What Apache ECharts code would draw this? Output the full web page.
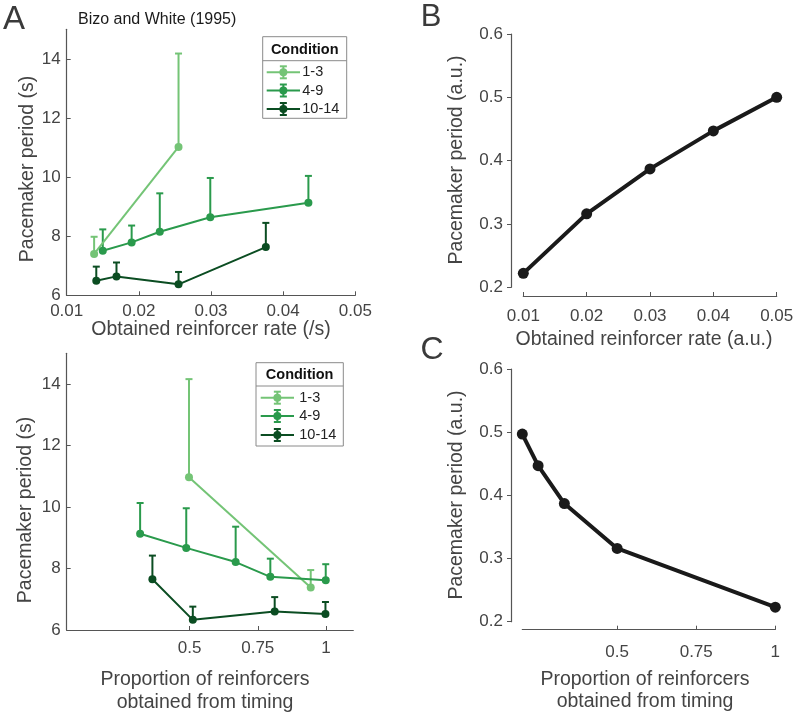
<!DOCTYPE html>
<html>
<head>
<meta charset="utf-8">
<script src="https://cdn.jsdelivr.net/npm/echarts@6/dist/echarts.min.js"></script>
<style>
html,body{margin:0;padding:0;background:#fff;}
#c{width:797px;height:717px;}
</style>
</head>
<body>
<div id="c"></div>
<script>
// ---- Data ----
const conditions = ['1-3', '4-9', '10-14'];
const condColors = ['#74c476', '#2a9a4c', '#0b4d22'];

// Panel A top: obtained reinforcer rate (/s) vs pacemaker period (s); upper error bar ends
const rateX_13 = [0.0138, 0.0255];
const rateY_13 = [7.40, 11.02];
const rateUp_13 = [7.98, 14.18];
const rateX_49 = [0.0150, 0.0190, 0.0229, 0.0299, 0.0435];
const rateY_49 = [7.51, 7.79, 8.15, 8.64, 9.13];
const rateUp_49 = [8.23, 8.36, 9.45, 9.97, 10.04];
const rateX_1014 = [0.0141, 0.0169, 0.0255, 0.0376];
const rateY_1014 = [6.49, 6.64, 6.37, 7.63];
const rateUp_1014 = [6.97, 7.11, 6.79, 8.45];

// Panel A bottom: proportion of reinforcers obtained from timing
const propX_13 = [0.498, 0.944];
const propY_13 = [10.97, 7.38];
const propUp_13 = [14.16, 7.95];
const propX_49 = [0.319, 0.488, 0.669, 0.796, 0.999];
const propY_49 = [9.13, 8.67, 8.21, 7.73, 7.62];
const propUp_49 = [10.13, 9.96, 9.36, 8.32, 8.14];
const propX_1014 = [0.364, 0.512, 0.812, 0.998];
const propY_1014 = [7.65, 6.33, 6.60, 6.52];
const propUp_1014 = [8.42, 6.76, 7.07, 6.91];

// Panel B and C model
const modelRate = [0.01, 0.02, 0.03, 0.04, 0.05];
const modelPeriodB = [0.222, 0.316, 0.387, 0.447, 0.500];
const modelProp = [0.2, 0.25, 0.333, 0.5, 1.0];
const modelPeriodC = [0.497, 0.447, 0.387, 0.316, 0.223];

// Tick labels
const yTicksA = [6, 8, 10, 12, 14];
const xTicksProp = [0.5, 0.75, 1];

// ---- Build ----
const FONT = '"Liberation Sans", Arial, Helvetica, sans-serif';
const TXT = '#444';
const AXC = '#555';

function zip(xs, ys, ups) { return xs.map((x, i) => ups ? [x, ys[i], ups[i]] : [x, ys[i]]); }

function errSeries(data, color, xi, yi) {
  return {
    type: 'custom', xAxisIndex: xi, yAxisIndex: yi, z: 2, silent: true,
    data: data,
    renderItem: function (params, api) {
      const p0 = api.coord([api.value(0), api.value(1)]);
      const p1 = api.coord([api.value(0), api.value(2)]);
      const hw = 3.5;
      return {
        type: 'group', children: [
          { type: 'line', shape: { x1: p0[0], y1: p0[1], x2: p1[0], y2: p1[1] }, style: { stroke: color, lineWidth: 2 } },
          { type: 'line', shape: { x1: p1[0] - hw, y1: p1[1], x2: p1[0] + hw, y2: p1[1] }, style: { stroke: color, lineWidth: 2 } }
        ]
      };
    }
  };
}
function lineSeries(name, data, color, xi, yi) {
  return {
    name: name, type: 'line', xAxisIndex: xi, yAxisIndex: yi, z: 3,
    data: data, symbol: 'circle', symbolSize: 8, showSymbol: true,
    lineStyle: { color: color, width: 2 }, itemStyle: { color: color },
    animation: false
  };
}

const axisLabelBase = { color: TXT, fontFamily: FONT, fontSize: 17 };

const grids = [
  { left: 66.7, top: 29.3, width: 288.6, height: 266 },
  { left: 66.7, top: 353.3, width: 286.6, height: 276.7 },
  { left: 523.3, top: 34, width: 253.4, height: 253.3 },
  { left: 522.3, top: 369, width: 253, height: 252.7 }
];

const xAxes = [
  { gridIndex: 0, type: 'value', min: 0.01, max: 0.05, interval: 0.01,
    axisLine: { lineStyle: { color: AXC, width: 1.2 } },
    axisTick: { inside: true, length: 4, lineStyle: { color: AXC } },
    axisLabel: Object.assign({ margin: 8, showMinLabel: true, showMaxLabel: true }, axisLabelBase),
    splitLine: { show: false } },
  { gridIndex: 1, type: 'value', min: 0.05, max: 1.1,
    axisLine: { lineStyle: { color: AXC, width: 1.2 } },
    axisTick: { inside: true, length: 4, lineStyle: { color: AXC }, customValues: xTicksProp },
    axisLabel: Object.assign({ margin: 10, customValues: xTicksProp }, axisLabelBase),
    splitLine: { show: false } },
  { gridIndex: 2, type: 'value', min: 0.01, max: 0.05, interval: 0.01, offset: 8.7,
    axisLine: { lineStyle: { color: AXC, width: 1.2 } },
    axisTick: { inside: true, length: 4, lineStyle: { color: AXC } },
    axisLabel: Object.assign({ margin: 12 }, axisLabelBase),
    splitLine: { show: false } },
  { gridIndex: 3, type: 'value', min: 0.2, max: 1.0, offset: 8,
    axisLine: { lineStyle: { color: AXC, width: 1.2 } },
    axisTick: { inside: true, length: 4, lineStyle: { color: AXC }, customValues: xTicksProp },
    axisLabel: Object.assign({ margin: 14, customValues: xTicksProp }, axisLabelBase),
    splitLine: { show: false } }
];
const yAxes = [
  { gridIndex: 0, type: 'value', min: 6, max: 15,
    axisLine: { show: true, lineStyle: { color: AXC, width: 1.2 } },
    axisTick: { show: true, inside: true, length: 4, lineStyle: { color: AXC }, customValues: yTicksA },
    axisLabel: Object.assign({ margin: 6, customValues: yTicksA }, axisLabelBase),
    splitLine: { show: false } },
  { gridIndex: 1, type: 'value', min: 6, max: 15,
    axisLine: { show: true, lineStyle: { color: AXC, width: 1.2 } },
    axisTick: { show: true, inside: true, length: 4, lineStyle: { color: AXC }, customValues: yTicksA },
    axisLabel: Object.assign({ margin: 6, customValues: yTicksA }, axisLabelBase),
    splitLine: { show: false } },
  { gridIndex: 2, type: 'value', min: 0.2, max: 0.6, interval: 0.1, offset: 12.3,
    axisLine: { show: true, lineStyle: { color: AXC, width: 1.2 } },
    axisTick: { show: true, inside: false, length: 4, lineStyle: { color: AXC } },
    axisLabel: Object.assign({ margin: 8 }, axisLabelBase),
    splitLine: { show: false } },
  { gridIndex: 3, type: 'value', min: 0.2, max: 0.6, interval: 0.1, offset: 11.3,
    axisLine: { show: true, lineStyle: { color: AXC, width: 1.2 } },
    axisTick: { show: true, inside: false, length: 4, lineStyle: { color: AXC } },
    axisLabel: Object.assign({ margin: 8 }, axisLabelBase),
    splitLine: { show: false } }
];

const series = [];
const topSets = [[rateX_13, rateY_13, rateUp_13], [rateX_49, rateY_49, rateUp_49], [rateX_1014, rateY_1014, rateUp_1014]];
const botSets = [[propX_13, propY_13, propUp_13], [propX_49, propY_49, propUp_49], [propX_1014, propY_1014, propUp_1014]];
topSets.forEach((s, i) => {
  series.push(errSeries(zip(s[0], s[1], s[2]), condColors[i], 0, 0));
  series.push(lineSeries(conditions[i], zip(s[0], s[1]), condColors[i], 0, 0));
});
botSets.forEach((s, i) => {
  series.push(errSeries(zip(s[0], s[1], s[2]), condColors[i], 1, 1));
  series.push(lineSeries(conditions[i], zip(s[0], s[1]), condColors[i], 1, 1));
});
series.push({ type: 'line', xAxisIndex: 2, yAxisIndex: 2, data: zip(modelRate, modelPeriodB),
  symbol: 'circle', symbolSize: 11, lineStyle: { color: '#1a1a1a', width: 4 }, itemStyle: { color: '#1a1a1a' } });
series.push({ type: 'line', xAxisIndex: 3, yAxisIndex: 3, data: zip(modelProp, modelPeriodC),
  symbol: 'circle', symbolSize: 11, lineStyle: { color: '#1a1a1a', width: 4 }, itemStyle: { color: '#1a1a1a' } });

// ---- Text / legend graphics ----
function txt(x, y, text, size, opts) {
  opts = opts || {};
  return { type: 'text', x: x, y: y, rotation: opts.rot || 0, z: 10,
    style: { text: text, fill: opts.color || TXT, font: (opts.weight || 'normal') + ' ' + size + 'px ' + FONT,
      align: opts.align || 'center', verticalAlign: 'middle', lineHeight: opts.lh || size } };
}
function legend(box, sepY, headY, iconX0, iconX1, textX, rowsY) {
  const g = [];
  g.push({ type: 'rect', z: 9, shape: { x: box[0], y: box[1], width: box[2] - box[0], height: box[3] - box[1] },
    style: { fill: '#fff', stroke: '#8a8a8a', lineWidth: 1 } });
  g.push({ type: 'line', z: 10, shape: { x1: box[0], y1: sepY, x2: box[2], y2: sepY }, style: { stroke: '#8a8a8a', lineWidth: 1 } });
  g.push(txt((box[0] + box[2]) / 2, headY, 'Condition', 14.5, { weight: 'bold', color: '#111' }));
  rowsY.forEach((ry, i) => {
    const c = condColors[i], cx = (iconX0 + iconX1) / 2;
    g.push({ type: 'line', z: 10, shape: { x1: iconX0, y1: ry, x2: iconX1, y2: ry }, style: { stroke: c, lineWidth: 2 } });
    g.push({ type: 'line', z: 10, shape: { x1: cx, y1: ry - 6, x2: cx, y2: ry + 6 }, style: { stroke: c, lineWidth: 2 } });
    g.push({ type: 'line', z: 10, shape: { x1: cx - 3.5, y1: ry - 6, x2: cx + 3.5, y2: ry - 6 }, style: { stroke: c, lineWidth: 2 } });
    g.push({ type: 'line', z: 10, shape: { x1: cx - 3.5, y1: ry + 6, x2: cx + 3.5, y2: ry + 6 }, style: { stroke: c, lineWidth: 2 } });
    g.push({ type: 'circle', z: 10, shape: { cx: cx, cy: ry, r: 4 }, style: { fill: c } });
    g.push(txt(textX, ry, conditions[i], 14.5, { align: 'left', color: '#222' }));
  });
  return g;
}

const graphics = [
  txt(14, 20, 'A', 33, { color: '#3a3a3a' }),
  txt(431, 17, 'B', 31, { color: '#3a3a3a' }),
  txt(432, 350, 'C', 32, { color: '#3a3a3a' }),
  txt(78, 20, 'Bizo and White (1995)', 16, { align: 'left', color: '#1a1a1a' }),
  txt(28, 169, 'Pacemaker period (s)', 19.5, { rot: Math.PI / 2 }),
  txt(26, 510, 'Pacemaker period (s)', 19.5, { rot: Math.PI / 2 }),
  txt(457, 160, 'Pacemaker period (a.u.)', 19.5, { rot: Math.PI / 2 }),
  txt(457, 495, 'Pacemaker period (a.u.)', 19.5, { rot: Math.PI / 2 }),
  txt(211, 330, 'Obtained reinforcer rate (/s)', 19.5),
  txt(644, 340, 'Obtained reinforcer rate (a.u.)', 19.5),
  txt(205, 680, 'Proportion of reinforcers', 19.5),
  txt(205, 703, 'obtained from timing', 19.5),
  txt(645, 680, 'Proportion of reinforcers', 19.5),
  txt(645, 702, 'obtained from timing', 19.5)
].concat(
  legend([262.7, 36.7, 346.7, 118.3], 60.7, 49.5, 266.7, 300, 302.3, [72.3, 90.5, 109]),
  legend([256, 362.7, 343.3, 446], 386, 375, 260.7, 294, 299.3, [397.7, 416, 435])
);

const chart = echarts.init(document.getElementById('c'), null, { renderer: 'canvas' });
chart.setOption({
  animation: false,
  backgroundColor: '#fff',
  grid: grids,
  xAxis: xAxes,
  yAxis: yAxes,
  series: series,
  graphic: graphics
});
</script>
</body>
</html>
